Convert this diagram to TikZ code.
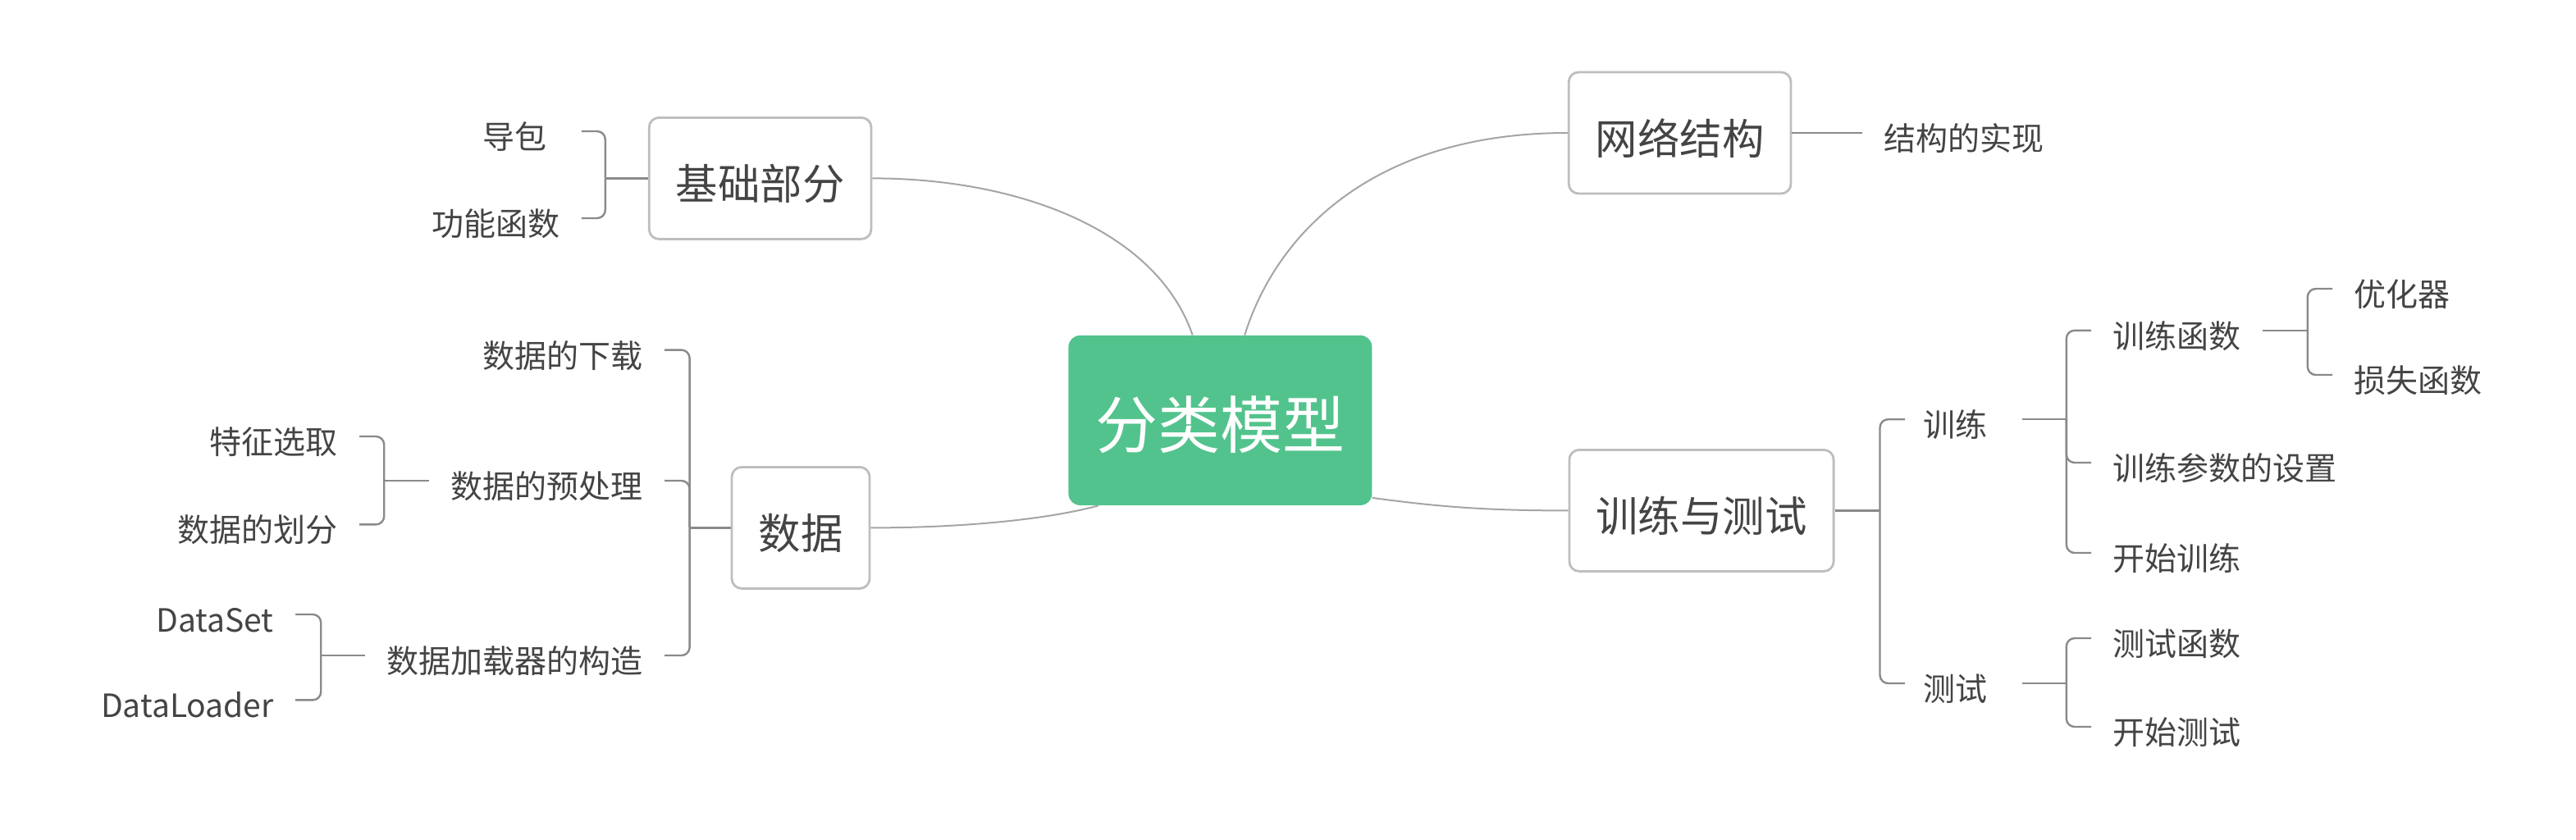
\documentclass[tikz,border=0pt]{standalone}
\usepackage{fontspec}
\newfontfamily\cjk{Noto Sans CJK SC}
\definecolor{rootgreen}{RGB}{82,195,140}
\definecolor{inkgray}{RGB}{68,68,68}
\definecolor{linegray}{RGB}{138,138,138}
\definecolor{framegray}{RGB}{190,190,190}
\definecolor{curvegray}{RGB}{165,165,165}
\begin{document}
\begin{tikzpicture}[x=1pt,y=-1pt,font=\cjk,text=inkgray,
  root/.style={fill=rootgreen,rounded corners=7pt,text=white,font=\cjk\fontsize{38pt}{44pt}\selectfont,
    inner xsep=16.5pt,minimum height=103.5pt,text height=38pt,text depth=3.8pt},
  topic/.style={draw=framegray,line width=1.4pt,fill=white,rounded corners=6pt,font=\cjk\fontsize{25.7pt}{30pt}\selectfont,
    inner xsep=16.3pt,minimum height=74pt,text height=28.2pt,text depth=2pt},
  leaf/.style={font=\cjk\fontsize{19.5pt}{23pt}\selectfont,inner xsep=13pt,inner ysep=0pt,text height=23.4pt,text depth=2pt},
  pair/.style={leaf,text width=49pt,align=left,inner xsep=11pt},
  branch/.style={draw=linegray,line width=1.2pt,rounded corners=5pt},
  trunk/.style={draw=curvegray,line width=1pt}]
  \useasboundingbox (0,0) rectangle (1570,511.5);
  \fill[white] (0,0) rectangle (1570,511.5);

  % centre and main topics
  \node[root] (root) at (743.7,256.2) {分类模型};
  \node[topic] (jc) at (463.3,108.7) {基础部分};
  \node[topic] (wl) at (1023.8,81) {网络结构};
  \node[topic] (sj) at (488,321.7) {数据};
  \node[topic] (xc) at (1037,311.2) {训练与测试};
  \draw[trunk] (root.108) .. controls +(-22,-64) and +(89,0) .. (jc.east);
  \draw[trunk] (root.74) .. controls +(20,-64) and +(-116,0) .. (wl.west);
  \draw[trunk] (root.215) .. controls +(-29,8) and +(59,0) .. (sj.east);
  \draw[trunk] (root.333) .. controls +(44,6) and +(-46,0) .. (xc.west);

  % 基础部分
  \draw[branch] (jc.west) -- ++(-26,0) coordinate (jc-j);
  \node[pair,anchor=east] (jc1) at (354.4,80) {导包};
  \node[leaf,anchor=east] (jc2) at (354.4,133) {功能函数};
  \draw[branch] (jc-j) |- (jc1.east);
  \draw[branch] (jc-j) |- (jc2.east);

  % 网络结构
  \node[leaf,anchor=west] (wl1) at (1135,81) {结构的实现};
  \draw[branch] (wl.east) -- (wl1.west);

  % 数据
  \draw[branch] (sj.west) -- ++(-25,0) coordinate (sj-j);
  \foreach \n/\y/\t in {sj1/213.3/数据的下载,sj2/293/数据的预处理,sj3/399.5/数据加载器的构造}{
    \node[leaf,anchor=east] (\n) at (405,\y) {\t};
    \draw[branch] (sj-j) |- (\n.east);
  }
  \draw[branch] (sj2.west) -- ++(-27.5,0) coordinate (sj2-j);
  \foreach \n/\y/\t in {sj21/266/特征选取,sj22/319.7/数据的划分}{
    \node[leaf,anchor=east] (\n) at (219,\y) {\t};
    \draw[branch] (sj2-j) |- (\n.east);
  }
  \draw[branch] (sj3.west) -- ++(-27,0) coordinate (sj3-j);
  \foreach \n/\y/\t in {sj31/374.5/DataSet,sj32/426.7/DataLoader}{
    \node[leaf,anchor=east] (\n) at (180,\y) {\t};
    \draw[branch] (sj3-j) |- (\n.east);
  }

  % 训练与测试
  \draw[branch] (xc.east) -- ++(27.5,0) coordinate (xc-j);
  \node[pair,anchor=west] (xl) at (1161,255.6) {训练};
  \node[pair,anchor=west] (cs) at (1161,416.5) {测试};
  \draw[branch] (xc-j) |- (xl.west);
  \draw[branch] (xc-j) |- (cs.west);
  \draw[branch] (xl.east) -- ++(27,0) coordinate (xl-j);
  \foreach \n/\y/\t in {xl1/201.4/训练函数,xl2/282/训练参数的设置,xl3/337/开始训练}{
    \node[leaf,anchor=west] (\n) at (1274.5,\y) {\t};
    \draw[branch] (xl-j) |- (\n.west);
  }
  \draw[branch] (xl1.east) -- ++(27.5,0) coordinate (xl1-j);
  \foreach \n/\y/\t in {xl11/176/优化器,xl12/228.5/损失函数}{
    \node[leaf,anchor=west] (\n) at (1421.5,\y) {\t};
    \draw[branch] (xl1-j) |- (\n.west);
  }
  \draw[branch] (cs.east) -- ++(27,0) coordinate (cs-j);
  \foreach \n/\y/\t in {cs1/389/测试函数,cs2/443/开始测试}{
    \node[leaf,anchor=west] (\n) at (1274.5,\y) {\t};
    \draw[branch] (cs-j) |- (\n.west);
  }
\end{tikzpicture}
\end{document}
